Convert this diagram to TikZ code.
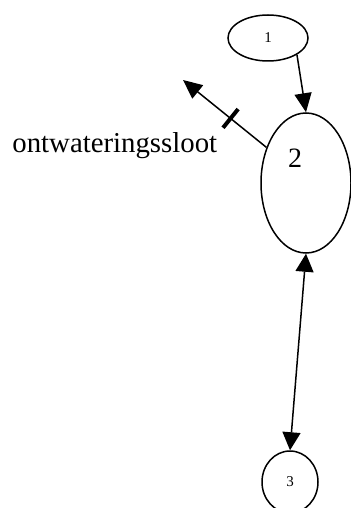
\documentclass[tikz,border=0pt]{standalone}
\usepackage{fontspec}
\setmainfont{Liberation Serif}
\usetikzlibrary{arrows.meta,shapes.geometric}
\begin{document}
\begin{tikzpicture}[x=0.5pt,y=-0.5pt,
  blob/.style={draw,ellipse,line width=0.75pt,inner sep=0pt},
  flow/.style={line width=0.75pt,-{Triangle[length=9.5pt,width=8.5pt]}},
  bothflow/.style={line width=0.75pt,{Triangle[length=9pt,width=9pt]}-{Triangle[length=9pt,width=9pt]}},
  tickmark/.style={fill=black,inner sep=0pt,minimum width=2pt,minimum height=12pt,sloped}]
  \useasboundingbox (0,0) rectangle (351,508);
  \node[blob,minimum width=40pt,minimum height=23pt,font=\fontsize{7.5}{9}\selectfont] (n1) at (268,38) {1};
  \node[blob,minimum width=45pt,minimum height=70pt] (n2) at (306,183) {};
  \node[font=\fontsize{14}{17}\selectfont] (l2) at (295,158) {2};
  \node[blob,minimum width=28pt,minimum height=31pt,font=\fontsize{7.5}{9}\selectfont] (n3) at (290,482) {3};
  \coordinate (drain) at (183,80);
  \node[anchor=base west,inner sep=0pt,font=\fontsize{14.4}{17}\selectfont] (lbl) at (12,152) {ontwateringssloot};
  \draw[flow] (n1.-30) -- (n2.north);
  \draw[flow] (n2.138) -- node[tickmark,pos=0.43]{} (drain);
  \draw[bothflow] (n2.south) -- (n3.north);
\end{tikzpicture}
\end{document}
